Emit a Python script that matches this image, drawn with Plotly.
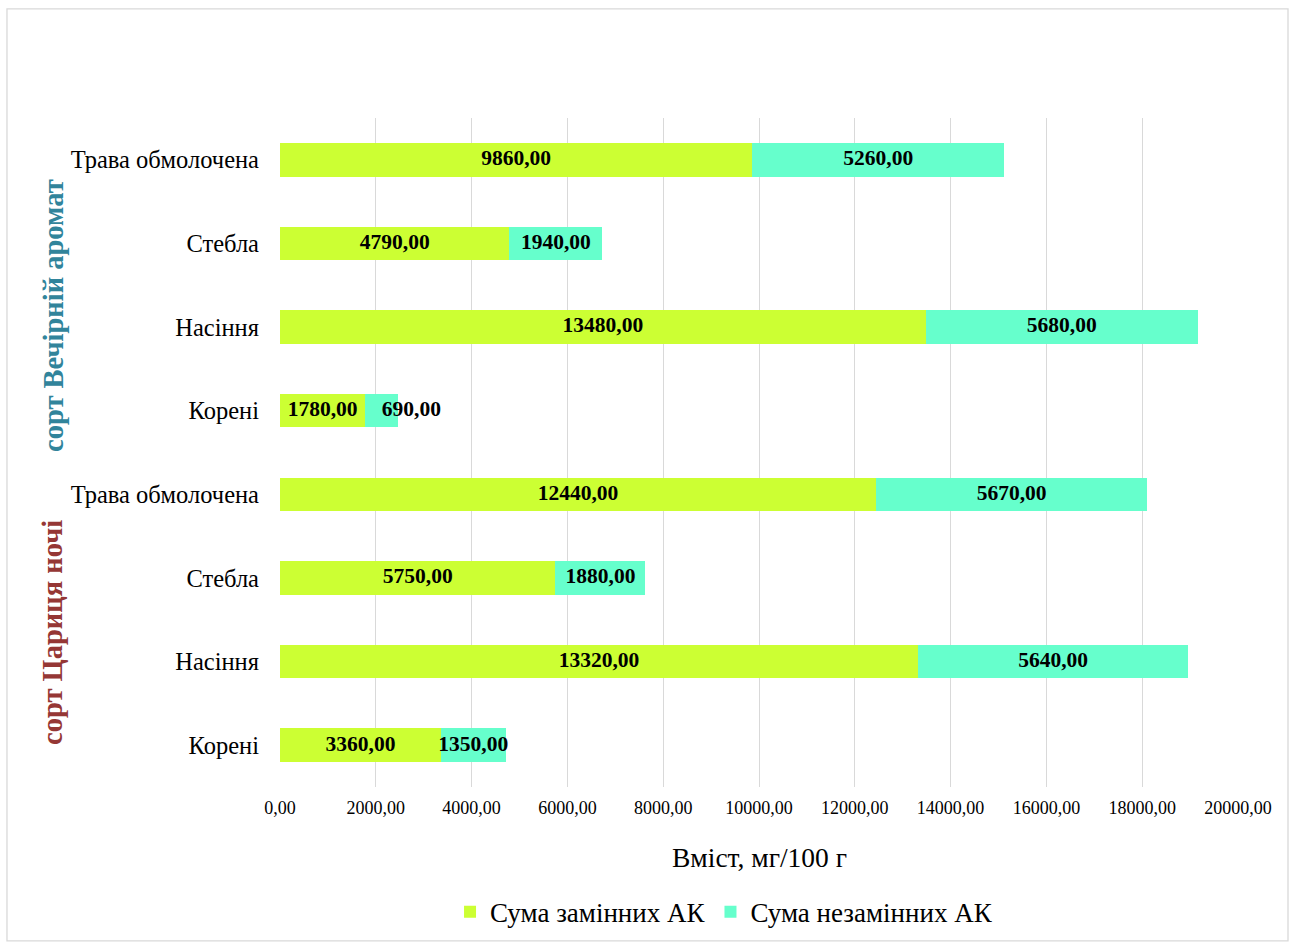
import plotly.graph_objects as go

# Categories from bottom to top (two cultivars, four plant parts each)
parts = ["Корені", "Насіння", "Стебла", "Трава обмолочена",
         "Корені", "Насіння", "Стебла", "Трава обмолочена"]
replaceable = [3360, 13320, 5750, 12440, 1780, 13480, 4790, 9860]
essential = [1350, 5640, 1880, 5670, 690, 5680, 1940, 5260]

tick_vals = [0, 2000, 4000, 6000, 8000, 10000, 12000, 14000, 16000, 18000, 20000]
tick_text = ["0,00", "2000,00", "4000,00", "6000,00", "8000,00", "10000,00",
             "12000,00", "14000,00", "16000,00", "18000,00", "20000,00"]

groups = ["сорт Цариця ночі", "сорт Вечірній аромат"]
group_colors = ["#953735", "#31849B"]

FONT = "Liberation Serif, Times New Roman, serif"
GREEN = "#CCFF33"
TEAL = "#66FFCC"

pos = list(range(len(parts)))


def fmt(v):
    return f"{v:.2f}".replace(".", ",")


fig = go.Figure()
fig.add_trace(go.Bar(y=pos, x=replaceable, orientation="h", name="Сума замінних АК",
                     marker=dict(color=GREEN, line=dict(width=0)), width=0.4))
fig.add_trace(go.Bar(y=pos, x=essential, orientation="h", name="Сума незамінних АК",
                     marker=dict(color=TEAL, line=dict(width=0)), width=0.4))

# Value labels centred on each segment; a label wider than its short segment
# is pushed to the right so it does not collide with its neighbour
mid_a = [a / 2 for a in replaceable]
mid_b = [a + b / 2 for a, b in zip(replaceable, essential)]
pos_b = ["middle right" if b < 1000 else "middle center" for b in essential]
for mids, vals, tpos in [(mid_a, replaceable, "middle center"), (mid_b, essential, pos_b)]:
    fig.add_trace(go.Scatter(y=pos, x=mids, mode="text", text=[fmt(v) for v in vals],
                             textposition=tpos,
                             textfont=dict(family=FONT, size=21.5, color="black"),
                             texttemplate="<b>%{text}</b>", showlegend=False,
                             hoverinfo="skip", cliponaxis=False))

fig.update_layout(
    barmode="stack",
    width=1295, height=942,
    margin=dict(l=280, r=57, t=118, b=155, autoexpand=False),
    paper_bgcolor="white", plot_bgcolor="white",
    font=dict(family=FONT, color="black"),
    showlegend=True,
    legend=dict(orientation="h", x=0.4635, xanchor="center", y=-0.187, yanchor="middle",
                font=dict(family=FONT, size=27), itemwidth=30, traceorder="normal"),
    xaxis=dict(range=[0, 20000], tickvals=tick_vals, ticktext=tick_text,
               showgrid=True, gridcolor="#D9D9D9", gridwidth=1.3, zeroline=False,
               showline=False, tickfont=dict(family=FONT, size=18), ticks="",
               ticklabelstandoff=8),
    yaxis=dict(range=[-0.5, 7.5], tickvals=pos, ticktext=parts, showgrid=False,
               zeroline=False, showline=False, tickfont=dict(family=FONT, size=24.5),
               ticks="", ticklabelstandoff=20),
)

fig.add_annotation(text="Вміст, мг/100 г", xref="paper", yref="paper", x=0.5, y=-0.106,
                   xanchor="center", showarrow=False, font=dict(family=FONT, size=27.5),
                   yanchor="middle")

for g, yc, col in zip(groups, [0.2317, 0.7055], group_colors):
    fig.add_annotation(text=f"<b>{g}</b>", xref="paper", yref="paper", x=-0.237, y=yc,
                       xanchor="center", yanchor="middle", textangle=-90, showarrow=False,
                       font=dict(family=FONT, size=28.5, color=col))

# Chart frame
fig.add_shape(type="rect", xref="paper", yref="paper", x0=-0.285, x1=1.0522,
              y0=-0.23, y1=1.163, line=dict(color="#D9D9D9", width=1.3), layer="below")

fig.write_html("out.html")
